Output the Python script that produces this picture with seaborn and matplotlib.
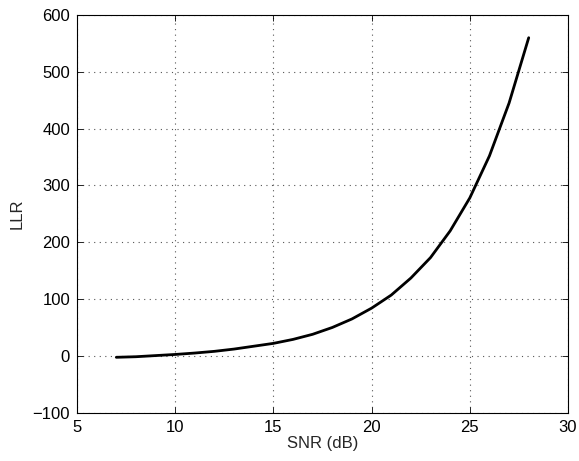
import matplotlib
matplotlib.use("Agg")
import matplotlib.pyplot as plt
import seaborn as sns
import pandas as pd

snr_db = [7, 8, 9, 10, 11, 12, 13, 14, 15, 16, 17, 18, 19, 20, 21, 22, 23, 24, 25, 26, 27, 28]
llr = [-2.5, -1.5, 0.5, 2.5, 5, 8, 12, 17, 22, 29, 38, 50, 65, 84, 107, 137, 173, 220, 278, 352, 445, 560]

x_ticks = [5, 10, 15, 20, 25, 30]
y_ticks = [-100, 0, 100, 200, 300, 400, 500, 600]

sns.set_theme(style="white")
plt.rcParams['font.family'] = ['Liberation Sans', 'DejaVu Sans']

df = pd.DataFrame({"SNR (dB)": snr_db, "LLR": llr})

fig = plt.figure(figsize=(5.79, 4.61), dpi=100)
ax = fig.add_axes([0.133, 0.1048, 0.848, 0.8627])
sns.lineplot(data=df, x="SNR (dB)", y="LLR", ax=ax, color="black", linewidth=2.0)

ax.set_xlim(5, 30)
ax.set_ylim(-100, 600)
ax.set_xticks(x_ticks)
ax.set_yticks(y_ticks)
ax.grid(True, linestyle=(0, (1, 4)), color="#555555", linewidth=0.8)
for s in ax.spines.values():
    s.set_color("black")
    s.set_linewidth(0.8)
ax.tick_params(direction="in", length=4, width=0.6, top=True, right=True,
               labelsize=12, colors="black", bottom=True, left=True)
ax.tick_params(axis="x", pad=5)
ax.tick_params(axis="y", pad=5)
ax.set_xlabel("SNR (dB)", fontsize=12, labelpad=1)
ax.set_ylabel("LLR", fontsize=12, labelpad=6)

fig.savefig("out.png", dpi=100, facecolor="white")
